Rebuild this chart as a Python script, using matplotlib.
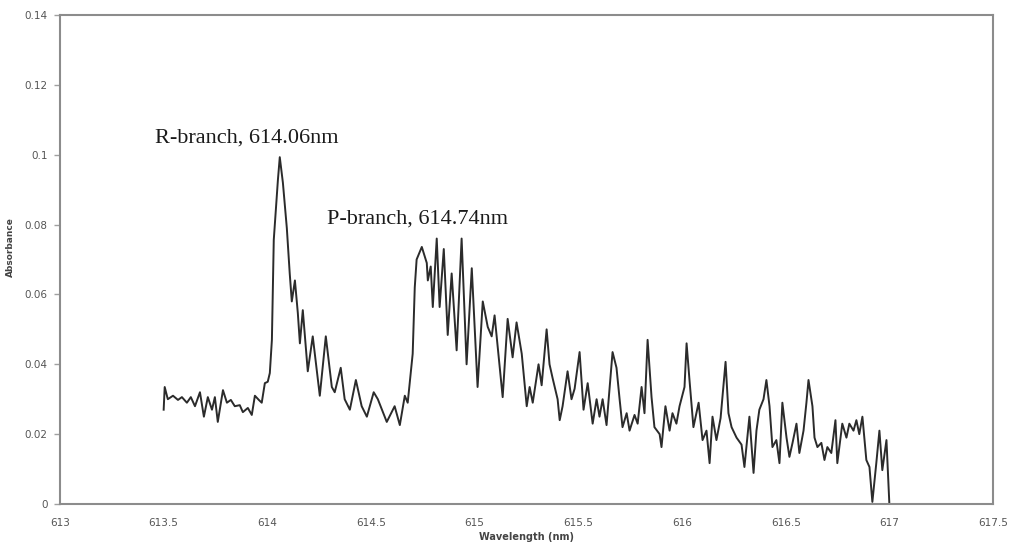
import matplotlib
matplotlib.use("Agg")
import matplotlib.pyplot as plt
import numpy as np

# Absorption spectrum
wavelength = [
    613.500, 613.505, 613.520, 613.545, 613.569, 613.588, 613.612, 613.631,
    613.651, 613.675, 613.694, 613.713, 613.733, 613.747, 613.761, 613.786,
    613.805, 613.824, 613.843, 613.867, 613.882, 613.906, 613.925, 613.940,
    613.959, 613.973, 613.988, 614.002, 614.012, 614.022, 614.031, 614.051,
    614.060, 614.075, 614.094, 614.108, 614.118, 614.133, 614.147, 614.157,
    614.171, 614.195, 614.219, 614.253, 614.282, 614.311, 614.325, 614.354,
    614.373, 614.398, 614.427, 614.455, 614.480, 614.513, 614.533, 614.576,
    614.614, 614.639, 614.663, 614.677, 614.701, 614.711, 614.720, 614.745,
    614.769, 614.774, 614.788, 614.798, 614.817, 614.831, 614.851, 614.870,
    614.889, 614.913, 614.937, 614.961, 614.986, 615.014, 615.039, 615.063,
    615.082, 615.096, 615.135, 615.159, 615.183, 615.202, 615.227, 615.251,
    615.265, 615.280, 615.308, 615.323, 615.347, 615.361, 615.376, 615.400,
    615.410, 615.424, 615.448, 615.467, 615.482, 615.506, 615.525, 615.545,
    615.569, 615.588, 615.602, 615.617, 615.636, 615.665, 615.684, 615.699,
    615.713, 615.733, 615.747, 615.771, 615.786, 615.805, 615.819, 615.834,
    615.853, 615.867, 615.892, 615.901, 615.920, 615.940, 615.954, 615.973,
    615.988, 616.012, 616.022, 616.036, 616.055, 616.080, 616.099, 616.118,
    616.133, 616.147, 616.166, 616.186, 616.195, 616.210, 616.224, 616.239,
    616.263, 616.287, 616.301, 616.325, 616.345, 616.359, 616.373, 616.393,
    616.407, 616.422, 616.436, 616.455, 616.470, 616.484, 616.504, 616.518,
    616.533, 616.552, 616.566, 616.586, 616.600, 616.610, 616.629, 616.639,
    616.653, 616.672, 616.687, 616.701, 616.720, 616.740, 616.749, 616.773,
    616.793, 616.807, 616.827, 616.841, 616.855, 616.870, 616.889, 616.904,
    616.918, 616.937, 616.952, 616.966, 616.986, 617.000,
]
absorbance = [
    0.0270, 0.0335, 0.0300, 0.0310, 0.0298, 0.0306, 0.0290, 0.0306,
    0.0280, 0.0320, 0.0250, 0.0306, 0.0270, 0.0306, 0.0235, 0.0326,
    0.0290, 0.0298, 0.0280, 0.0283, 0.0263, 0.0275, 0.0255, 0.0310,
    0.0298, 0.0290, 0.0346, 0.0350, 0.0375, 0.0470, 0.0756, 0.0928,
    0.0993, 0.0920, 0.0790, 0.0660, 0.0580, 0.0640, 0.0547, 0.0460,
    0.0555, 0.0380, 0.0480, 0.0310, 0.0480, 0.0335, 0.0320, 0.0390,
    0.0300, 0.0270, 0.0355, 0.0280, 0.0250, 0.0320, 0.0300, 0.0235,
    0.0280, 0.0226, 0.0310, 0.0290, 0.0430, 0.0620, 0.0700, 0.0736,
    0.0690, 0.0640, 0.0680, 0.0564, 0.0760, 0.0564, 0.0730, 0.0484,
    0.0660, 0.0440, 0.0760, 0.0400, 0.0675, 0.0335, 0.0580, 0.0507,
    0.0480, 0.0540, 0.0306, 0.0530, 0.0420, 0.0520, 0.0430, 0.0280,
    0.0335, 0.0290, 0.0400, 0.0340, 0.0500, 0.0400, 0.0360, 0.0300,
    0.0240, 0.0280, 0.0380, 0.0300, 0.0330, 0.0435, 0.0270, 0.0346,
    0.0230, 0.0300, 0.0250, 0.0300, 0.0226, 0.0435, 0.0390, 0.0300,
    0.0220, 0.0260, 0.0210, 0.0255, 0.0230, 0.0335, 0.0260, 0.0470,
    0.0306, 0.0220, 0.0200, 0.0163, 0.0280, 0.0210, 0.0260, 0.0230,
    0.0280, 0.0335, 0.0460, 0.0355, 0.0220, 0.0290, 0.0183, 0.0210,
    0.0117, 0.0250, 0.0183, 0.0246, 0.0306, 0.0407, 0.0260, 0.0220,
    0.0190, 0.0170, 0.0106, 0.0250, 0.0089, 0.0210, 0.0270, 0.0300,
    0.0355, 0.0280, 0.0163, 0.0183, 0.0117, 0.0290, 0.0190, 0.0135,
    0.0175, 0.0230, 0.0146, 0.0210, 0.0290, 0.0355, 0.0280, 0.0190,
    0.0163, 0.0175, 0.0126, 0.0163, 0.0146, 0.0240, 0.0117, 0.0230,
    0.0190, 0.0230, 0.0210, 0.0240, 0.0200, 0.0250, 0.0126, 0.0106,
    0.0006, 0.0117, 0.0210, 0.0097, 0.0183, 0.0000,
]

# Branch labels: text, anchor wavelength, anchor absorbance
branch_labels = ["R-branch, 614.06nm", "P-branch, 614.74nm"]
label_x = [613.458, 614.287]
label_y = [0.1036, 0.0804]

x_ticks = [613, 613.5, 614, 614.5, 615, 615.5, 616, 616.5, 617, 617.5]
y_ticks = [0, 0.02, 0.04, 0.06, 0.08, 0.1, 0.12, 0.14]

fig = plt.figure(figsize=(10.1, 5.42), dpi=100)
ax = fig.add_axes([0.0594, 0.0701, 0.9238, 0.9022])

ax.plot(wavelength, absorbance, color="#2b2b2b", linewidth=1.4)

for text, tx, ty in zip(branch_labels, label_x, label_y):
    ax.text(tx, ty, text, family="Liberation Serif", fontsize=16,
            ha="left", va="baseline", color="#1a1a1a")

ax.set_xlim(613, 617.5)
ax.set_ylim(0, 0.14)
ax.set_xticks(x_ticks)
ax.set_xticklabels([f"{t:g}" for t in x_ticks])
ax.set_yticks(y_ticks)
ax.set_yticklabels([f"{t:g}" for t in y_ticks])

# Excel-like grey frame and labels
for spine in ax.spines.values():
    spine.set_color("#8c8c8c")
    spine.set_linewidth(1.5)
ax.tick_params(axis="y", direction="out", length=4, width=1, color="#a0a0a0",
               labelsize=7.5, labelcolor="#555555", pad=5)
ax.tick_params(axis="x", length=0, labelsize=7.5, labelcolor="#555555", pad=10)

ax.set_xlabel("Wavelength (nm)", fontsize=7, fontweight="bold", color="#444444")
ax.set_ylabel("Absorbance", fontsize=6.5, fontweight="bold", color="#444444")
ax.xaxis.set_label_coords(0.5, -0.058)
ax.yaxis.set_label_coords(-0.048, 0.526)

fig.savefig("out.png", dpi=100)
